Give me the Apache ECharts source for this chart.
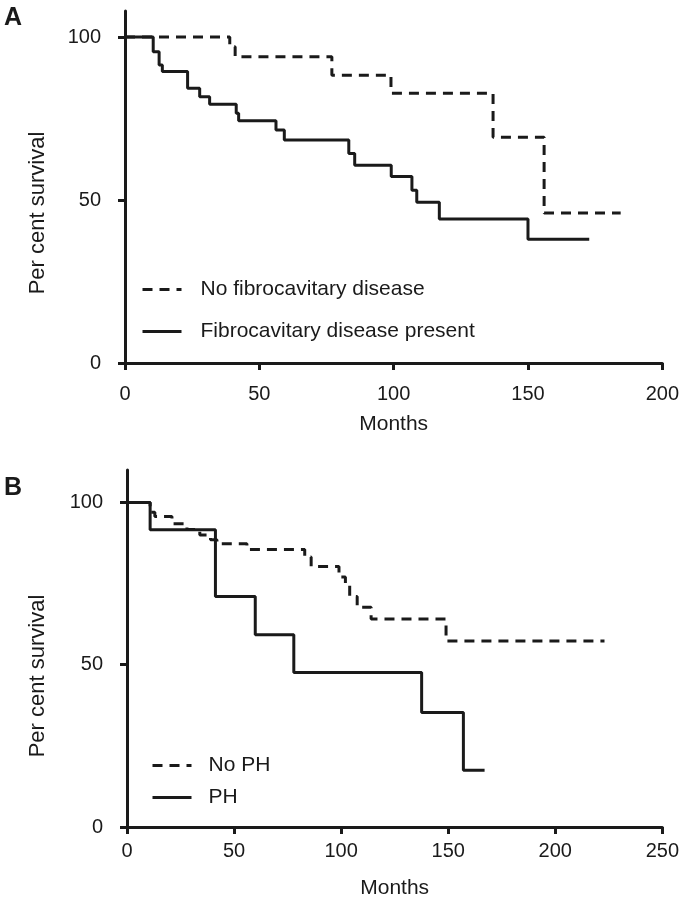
<!DOCTYPE html>
<html>
<head>
<meta charset="utf-8">
<script src="https://cdn.jsdelivr.net/npm/echarts@6/dist/echarts.min.js"></script>
<style>
html,body{margin:0;padding:0;background:#ffffff;}
#chart{width:682px;height:900px;}
</style>
</head>
<body>
<div id="chart"></div>
<script>
// Panel A data
var noFibroMonths = [0, 39, 41, 77, 99, 137, 156, 184.5];
var noFibroSurv   = [100, 97, 94, 88.3, 82.8, 69.3, 46, 46];
var fibroMonths = [0, 10.5, 12.7, 13.9, 23.3, 27.8, 31.5, 41.4, 42.3, 56.2, 59.3, 83.3, 85.5, 99.1, 106.8, 108.6, 117, 150, 172.8];
var fibroSurv   = [100, 95.5, 91.4, 89.4, 84.3, 81.7, 79.4, 76.6, 74.3, 71.5, 68.4, 64.3, 60.7, 57.2, 53, 49.3, 44.2, 38, 38];
// Panel B data
var noPHMonths = [0, 10.8, 13, 21, 28, 34, 39, 42, 56, 83, 86, 99, 102, 104, 107.5, 114, 149, 223];
var noPHSurv   = [100, 97, 95.7, 93.4, 91.7, 90, 88.5, 87.3, 85.5, 83.2, 80.3, 77, 75, 71, 67.7, 64.1, 57.3, 57.3];
var phMonths = [0, 10.8, 41.3, 59.9, 77.9, 137.6, 157.1, 167];
var phSurv   = [100, 91.6, 71, 59.2, 47.6, 35.3, 17.5, 17.5];
// Ticks
var xTicksA = [0, 50, 100, 150, 200];
var xTicksB = [0, 50, 100, 150, 200, 250];
var yTicks = [0, 50, 100];
var namesA = ['No fibrocavitary disease', 'Fibrocavitary disease present'];
var namesB = ['No PH', 'PH'];

function pairs(xs, ys) { return xs.map(function (x, i) { return [x, ys[i]]; }); }

var INK = '#1a1a1a';
var FONT = 'Liberation Sans, Arial, Helvetica, sans-serif';

function xAxis(gridIndex, max, ticks, margin, gap) {
  return {
    type: 'value', gridIndex: gridIndex, min: 0, max: max, interval: 50,
    name: 'Months', nameLocation: 'middle', nameGap: gap,
    nameTextStyle: { color: INK, fontSize: 21, fontFamily: FONT },
    axisLine: { show: true, onZero: false, lineStyle: { color: INK, width: 3 } },
    axisTick: { show: true, length: 7, customValues: ticks, lineStyle: { color: INK, width: 3 } },
    axisLabel: { color: INK, fontSize: 20, fontFamily: FONT, margin: margin, customValues: ticks },
    splitLine: { show: false }
  };
}
function yAxis(gridIndex, max) {
  return {
    type: 'value', gridIndex: gridIndex, min: 0, max: max,
    axisLine: { show: true, onZero: false, lineStyle: { color: INK, width: 3 } },
    axisTick: { show: true, length: 7, customValues: yTicks, lineStyle: { color: INK, width: 3 } },
    axisLabel: { color: INK, fontSize: 20, fontFamily: FONT, margin: 24, customValues: yTicks },
    splitLine: { show: false }
  };
}
function series(name, xi, data, dashed) {
  return {
    name: name, type: 'line', xAxisIndex: xi, yAxisIndex: xi,
    step: 'end', symbol: 'none', animation: false,
    data: data,
    lineStyle: { color: INK, width: 3, type: dashed ? [10, 7] : 'solid' },
    itemStyle: { color: INK }
  };
}

var chart = echarts.init(document.getElementById('chart'), null, { renderer: 'canvas' });
chart.setOption({
  backgroundColor: '#ffffff',
  animation: false,
  grid: [
    { left: 125, top: 11, width: 540, height: 352 },
    { left: 127, top: 470, width: 540, height: 358 }
  ],
  xAxis: [xAxis(0, 200, xTicksA, 21, 51), xAxis(1, 250, xTicksB, 14, 51)],
  yAxis: [yAxis(0, 108), yAxis(1, 110)],
  legend: [
    {
      data: namesA, orient: 'vertical', left: 141, top: 279, itemGap: 21, padding: 0,
      itemWidth: 39, itemHeight: 14,
      itemStyle: { opacity: 0 },
      lineStyle: { width: 3, color: INK },
      textStyle: { color: INK, fontSize: 21, fontFamily: FONT, padding: [0, 0, 0, 14] }
    },
    {
      data: namesB, orient: 'vertical', left: 151, top: 755, itemGap: 11, padding: 0,
      itemWidth: 39, itemHeight: 14,
      itemStyle: { opacity: 0 },
      lineStyle: { width: 3, color: INK },
      textStyle: { color: INK, fontSize: 21, fontFamily: FONT, padding: [0, 0, 0, 12] }
    }
  ],
  series: [
    series(namesA[0], 0, pairs(noFibroMonths, noFibroSurv), true),
    series(namesA[1], 0, pairs(fibroMonths, fibroSurv), false),
    series(namesB[0], 1, pairs(noPHMonths, noPHSurv), true),
    series(namesB[1], 1, pairs(phMonths, phSurv), false)
  ],
  graphic: [
    { type: 'text', left: 4, top: 6, style: { text: 'A', font: 'bold 25px ' + FONT, fill: INK } },
    { type: 'text', left: 4, top: 476, style: { text: 'B', font: 'bold 25px ' + FONT, fill: INK } },
    { type: 'text', x: 38, y: 213, rotation: Math.PI / 2,
      style: { text: 'Per cent survival', font: '22px ' + FONT, fill: INK, align: 'center', verticalAlign: 'middle' } },
    { type: 'text', x: 38, y: 676, rotation: Math.PI / 2,
      style: { text: 'Per cent survival', font: '22px ' + FONT, fill: INK, align: 'center', verticalAlign: 'middle' } }
  ]
});
</script>
</body>
</html>
